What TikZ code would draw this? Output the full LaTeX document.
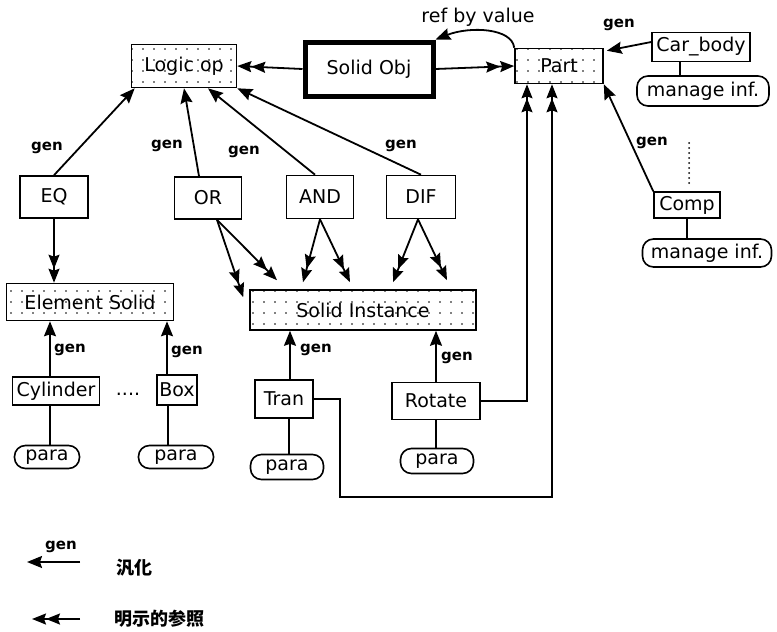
\documentclass[tikz,border=0pt]{standalone}
\usepackage{fontspec}
\setmainfont{DejaVu Sans}
\newfontfamily\jpfont{Noto Sans CJK JP}
\usepackage{tikz}
\usetikzlibrary{arrows.meta, positioning, calc, patterns.meta}
\newcommand\nodefont{\fontsize{19}{21}\selectfont}
\newcommand\genfont{\fontsize{15}{17}\selectfont\bfseries}

\begin{document}
\begin{tikzpicture}[
  x=1pt, y=-1pt,
  box/.style    = {draw, line width=1.6pt, inner sep=0pt, align=center, font=\nodefont},
  dotbox/.style = {box, pattern={Dots[distance=11pt, radius=0.8pt]}},
  objbox/.style = {box, line width=5pt},
  pill/.style   = {box, rounded corners=11pt},
  sz/.style 2 args = {minimum width=#1pt, minimum height=#2pt},
  genarr/.style = {-{Stealth[length=15pt, width=12pt, inset=2pt]}, line width=1.8pt},
  refarr/.style = {-{Stealth[length=14pt, width=11pt, inset=2pt]Stealth[length=14pt, width=11pt, inset=2pt]},
                   line width=1.8pt},
  lnk/.style    = {line width=1.8pt},
  genlbl/.style = {font=\genfont, inner sep=0pt},
  jplbl/.style  = {font={\jpfont\bfseries\fontsize{18}{20}\selectfont}, anchor=west},
]
\useasboundingbox (0,0) rectangle (777,632);

% ── Top row ──────────────────────────────────────────────────────────────────
\node[dotbox, sz={105}{43}] (logic)    at (184,66)  {Logic op};
\node[objbox, sz={128}{54}] (solidobj) at (369,69)  {Solid Obj};
\node[dotbox, sz={88}{35}]  (part)     at (559,66)  {Part};
\node[box,    sz={98}{29}]  (carbody)  at (701,47)  {Car\_body};
\node[pill,   sz={132}{30}] (mi1)      at (703,91)  {manage inf.};
\node[box,    sz={66}{26}]  (comp)     at (687,205) {Comp};
\node[pill,   sz={129}{28}] (mi2)      at (707,253) {manage inf.};

\draw[refarr] (solidobj.west) -- (logic.east);
\draw[refarr] (solidobj.east) -- (part.west);
\draw[genarr] (part.north west) .. controls (512,28) and (470,26) .. (solidobj.north east);
\node[font=\nodefont] (refval) at (478,17) {ref by value};

\draw[genarr] ([yshift=5pt]carbody.west) -- ([xshift=3pt, yshift=-3pt]part.north east);
\node[genlbl] (gcar) at (619,25) {gen};
\draw[lnk] ([xshift=-21pt]carbody.south) -- ([xshift=-21pt]carbody.south |- mi1.north);
\draw[genarr] (comp.north west) -- (part.south east);
\node[genlbl] (gcomp) at (652,143) {gen};
\draw[lnk] (comp.south) -- (comp.south |- mi2.north);
\coordinate (dt1) at (689,143);
\coordinate (dt2) at (689,186);
\draw[line width=2pt, line cap=round, dash pattern=on 0pt off 5pt] (dt1) -- (dt2);

% ── Logic operators ──────────────────────────────────────────────────────────
\node[box, sz={68}{42}] (eq)  at (54,197)  {EQ};
\node[box, sz={67}{42}] (or)  at (208,198) {OR};
\node[box, sz={67}{43}] (and) at (320,197) {AND};
\node[box, sz={69}{43}] (dif) at (421,197) {DIF};

\draw[genarr] (eq.north) -- ([xshift=4pt]logic.south west);
\draw[genarr] ([xshift=-9pt]or.north) -- (logic.south);
\draw[genarr] ([xshift=-5pt]and.north) -- ([xshift=24pt]logic.south);
\draw[genarr] (dif.north) -- (logic.south east);
\node[genlbl] (g1) at (47,148)  {gen};
\node[genlbl] (g2) at (167,146) {gen};
\node[genlbl] (g3) at (244,152) {gen};
\node[genlbl] (g4) at (401,146) {gen};

% ── Solids ───────────────────────────────────────────────────────────────────
\node[dotbox, sz={167}{37}] (elem) at (90,302)  {Element Solid};
\node[dotbox, sz={226}{40}] (inst) at (363,310) {Solid Instance};

\draw[refarr] (eq.south) -- (eq.south |- elem.north);
\draw[refarr] ([xshift=9pt]or.south) -- ([xshift=-6pt, yshift=-8pt]inst.north west);
\draw[refarr] ([xshift=9pt]or.south) -- ([xshift=-86pt, yshift=9pt]inst.north);
\draw[refarr] (and.south) -- ([xshift=-60pt, yshift=7pt]inst.north);
\draw[refarr] (and.south) -- ([xshift=-13pt, yshift=7pt]inst.north);
\draw[refarr] ([xshift=-3pt]dif.south) -- ([xshift=30pt, yshift=7pt]inst.north);
\draw[refarr] ([xshift=-3pt]dif.south) -- ([xshift=84pt, yshift=9pt]inst.north);

% ── Primitives and transforms ────────────────────────────────────────────────
\node[box, sz={87}{28}] (cyl)    at (56,391)  {Cylinder};
\node[font=\nodefont]   (more)   at (128,394) {....};
\node[box, sz={40}{30}] (boxp)   at (177,390) {Box};
\node[box, sz={58}{38}] (tran)   at (284,399) {Tran};
\node[box, sz={88}{37}] (rotate) at (436,401) {Rotate};

\node[pill, sz={65}{23}] (para1) at (47,457)  {para};
\node[pill, sz={75}{23}] (para2) at (176,457) {para};
\node[pill, sz={73}{25}] (para3) at (287,467) {para};
\node[pill, sz={73}{25}] (para4) at (437,461) {para};

\draw[genarr] ([xshift=-6pt]cyl.north) -- ([xshift=-6pt]cyl.north |- elem.south);
\draw[genarr] ([xshift=-10pt]boxp.north) -- ([xshift=-10pt]boxp.north |- elem.south);
\draw[genarr] ([xshift=6pt]tran.north) -- ([xshift=6pt]tran.north |- inst.south);
\draw[genarr] (rotate.north) -- (rotate.north |- inst.south);
\node[genlbl] (g5) at (70,350)  {gen};
\node[genlbl] (g6) at (187,352) {gen};
\node[genlbl] (g7) at (316,350) {gen};
\node[genlbl] (g8) at (457,358) {gen};

\draw[lnk] ([xshift=-6pt]cyl.south) -- ([xshift=-6pt]cyl.south |- para1.north);
\draw[lnk] ([xshift=-9pt]boxp.south) -- ([xshift=-9pt]boxp.south |- para2.north);
\draw[lnk] ([xshift=5pt]tran.south) -- ([xshift=5pt]tran.south |- para3.north);
\draw[lnk] (rotate.south) -- (rotate.south |- para4.north);

% ── References back to Part ──────────────────────────────────────────────────
\coordinate (tbend) at (340,497);
\draw[refarr] (rotate.east) -| ([xshift=-32pt]part.south);
\draw[refarr] (tran.east) -| (tbend) -| ([xshift=-7pt]part.south);

% ── Legend ───────────────────────────────────────────────────────────────────
\coordinate (lg1a) at (80,562);
\coordinate (lg1b) at (27,562);
\coordinate (lg2a) at (80,619);
\coordinate (lg2b) at (32,619);
\draw[genarr] (lg1a) -- (lg1b);
\node[genlbl] (lgen) at (61,547) {gen};
\node[jplbl] (lgtxt1) at (113,568) {汎化};
\draw[refarr] (lg2a) -- (lg2b);
\node[jplbl] (lgtxt2) at (111,619) {明示的参照};
\end{tikzpicture}
\end{document}
